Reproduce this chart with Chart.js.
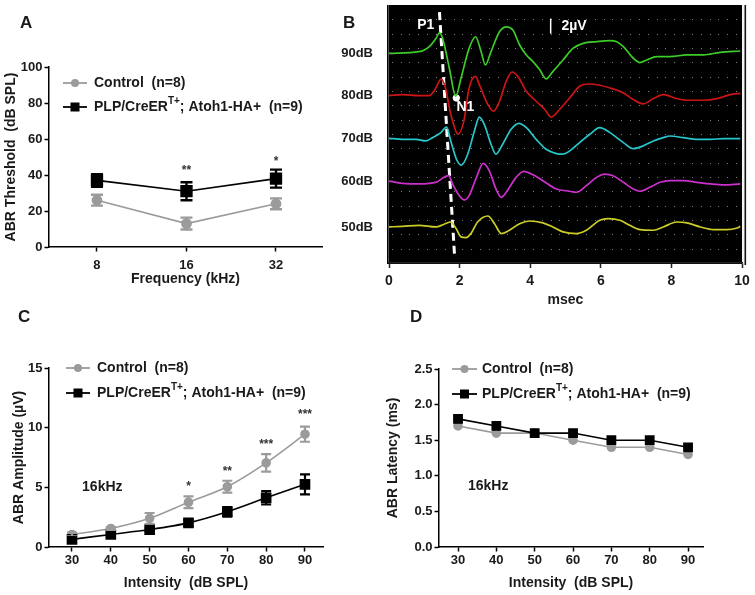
<!DOCTYPE html>
<html>
<head>
<meta charset="utf-8">
<script src="https://cdn.jsdelivr.net/npm/chart.js@4.4.1/dist/chart.umd.min.js"></script>
<style>
  body { margin: 0; background: #fff; }
  #wrap { position: relative; width: 755px; height: 595px; }
  #wrap canvas { position: absolute; left: 0; top: 0; }
</style>
</head>
<body>
<div id="wrap">
  <canvas id="panelA" width="755" height="595"></canvas>
  <canvas id="panelB" width="755" height="595"></canvas>
  <canvas id="panelC" width="755" height="595"></canvas>
  <canvas id="panelD" width="755" height="595"></canvas>
</div>
<script>
// ---- Panel A: ABR threshold ----
const freqLabels = ['8', '16', '32'];
const thrControl = [26, 13, 24];
const thrControlErr = [3, 3.3, 3];
const thrMutant = [37, 31, 38];
const thrMutantErr = [3.5, 5, 5];
const thrStars = ['', '**', '*'];
const thrStarY = [null, 44.4, 49.3];

// ---- Panel B: ABR traces (time ms, deflection uV) ----
const traceLabels = ['90dB', '80dB', '70dB', '60dB', '50dB'];
const traceBaselines = [29.26, 23.36, 17.40, 11.35, 5.03];
const traceColors = ['#3ccc28', '#cc1414', '#26c8cc', '#cc30cc', '#cccc26'];
const wave90 = [[0,0],[0.85,0.23],[1.0,0.47],[1.14,0.93],[1.33,2.08],[1.43,2.85],[1.52,2.08],[1.71,-2.08],[1.89,-6.02],[2.04,-3.47],[2.27,0.69],[2.45,2.31],[2.61,0.23],[2.73,-1.62],[2.89,0.23],[3.13,3.0],[3.32,3.7],[3.51,3.24],[3.70,1.16],[3.89,-0.23],[4.08,-1.16],[4.27,-2.31],[4.45,-3.56],[4.64,-2.55],[4.93,-0.93],[5.21,0.69],[5.50,1.39],[5.88,1.62],[6.26,1.76],[6.45,1.62],[6.64,0.93],[6.92,-0.69],[7.11,-1.3],[7.30,-0.93],[7.58,-0.46],[7.96,-0.46],[8.44,-0.23],[8.91,-0.23],[9.38,0.14],[9.95,0.32]];
const wave80 = [[0,0],[0.38,0.14],[0.85,0],[1.14,0],[1.30,0.83],[1.48,2.3],[1.60,1.06],[1.73,-2.18],[1.86,-4.49],[1.95,-5.4],[2.12,-3.56],[2.27,1.06],[2.45,2.68],[2.56,1.53],[2.80,-1.25],[2.96,-2.18],[3.13,-0.79],[3.32,1.99],[3.49,3.29],[3.65,2.68],[3.89,0.6],[4.17,-0.79],[4.41,-1.94],[4.60,-3.01],[4.83,-1.94],[5.12,-0.32],[5.40,1.3],[5.69,1.62],[5.97,1.44],[6.26,1.06],[6.64,0.37],[6.92,-0.56],[7.20,-1.16],[7.49,-0.42],[7.77,0.14],[8.15,-0.42],[8.44,-0.65],[8.91,-0.65],[9.29,-0.42],[9.67,0.14],[9.95,0.32]];
const wave70 = [[0,0],[0.38,-0.14],[0.76,-0.14],[1.04,-0.37],[1.23,0.09],[1.47,0.79],[1.63,1.57],[1.75,-0.37],[1.91,-2.92],[2.05,-3.75],[2.23,-2.22],[2.42,1.02],[2.56,2.96],[2.70,1.94],[2.89,-0.83],[3.03,-2.22],[3.22,-0.83],[3.46,1.25],[3.68,2.08],[3.89,1.48],[4.17,-0.14],[4.45,-1.53],[4.74,-2.13],[4.93,-2.22],[5.12,-1.76],[5.40,-0.6],[5.69,0.56],[5.97,1.48],[6.26,0.79],[6.64,-0.6],[6.92,-1.44],[7.20,-1.06],[7.49,-0.37],[7.77,0.09],[7.96,0.32],[8.34,0.09],[8.72,-0.14],[9.10,-0.14],[9.48,-0.05],[9.95,-0.05]];
const wave60 = [[0,0.09],[0.38,-0.23],[0.85,-0.32],[1.14,-0.23],[1.37,0],[1.56,0.6],[1.69,0.83],[1.80,-0.32],[1.99,-1.94],[2.13,-2.55],[2.27,-1.94],[2.46,0.37],[2.67,2.55],[2.84,1.53],[3.03,-1.02],[3.18,-2.18],[3.32,-1.48],[3.60,0.6],[3.82,1.44],[4.08,0.97],[4.36,0.14],[4.74,-1.02],[5.12,-1.34],[5.31,-1.48],[5.59,-0.56],[5.88,0.6],[6.11,1.06],[6.35,0.83],[6.64,-0.09],[6.92,-1.02],[7.11,-1.34],[7.39,-0.79],[7.68,-0.09],[7.96,0.14],[8.34,0.14],[8.72,-0.09],[9.10,-0.32],[9.48,-0.46],[9.95,-0.32]];
const wave50 = [[0,0],[0.38,0.09],[0.85,0.23],[1.33,0],[1.56,0.37],[1.75,0.69],[1.90,-0.23],[2.04,-1.39],[2.18,-1.48],[2.32,-0.93],[2.51,0.69],[2.80,1.53],[2.99,0.46],[3.18,-0.93],[3.41,-0.46],[3.70,0.46],[3.98,0.83],[4.36,0.56],[4.64,0],[4.93,-0.69],[5.31,-0.93],[5.59,-0.46],[5.97,0.93],[6.21,1.16],[6.54,0.93],[6.82,0.23],[7.11,-0.37],[7.49,-0.46],[7.77,0],[8.15,0.69],[8.44,0.56],[8.82,0],[9.19,-0.37],[9.57,-0.37],[9.86,-0.14],[9.95,0.09]];
const waves = [wave90, wave80, wave70, wave60, wave50];
const p1Line = [[1.43, 35.0], [1.86, 0.83]];
const n1Point = [1.906, 23.03];
const scaleBar = [4.58, 32.0, 34.1];

// ---- Panels C and D: amplitude and latency at 16 kHz ----
const intensities = [30, 40, 50, 60, 70, 80, 90];
const ampControl = [1.05, 1.55, 2.4, 3.75, 5.05, 7.05, 9.45];
const ampControlErr = [0.15, 0.12, 0.45, 0.5, 0.5, 0.74, 0.63];
const ampMutant = [0.64, 1.05, 1.46, 2.02, 2.95, 4.12, 5.25];
const ampMutantErr = [0.2, 0.15, 0.12, 0.25, 0.4, 0.56, 0.84];
const ampStars = ['', '', '', '*', '**', '***', '***'];
const ampStarY = [null, null, null, 5.34, 6.65, 8.91, 11.43];
const latControl = [1.7, 1.6, 1.6, 1.5, 1.4, 1.4, 1.3];
const latMutant = [1.8, 1.7, 1.6, 1.6, 1.5, 1.5, 1.4];
const latMutantErr = [0.05, 0.05, 0, 0, 0, 0, 0];

const GRAY = '#9b9b9b';
const INK = '#1a1a1a';
const FAMILY = '"Liberation Sans", Arial, Helvetica, sans-serif';
Chart.defaults.font.family = FAMILY;
Chart.defaults.font.weight = 'bold';
Chart.defaults.color = INK;

const legendRows = [
  { color: GRAY, marker: 'circle', parts: [['Control  (n=8)']] },
  { color: '#000', marker: 'rect', parts: [['PLP/CreER'], ['T+', 'sup'], ['; Atoh1-HA+  (n=9)']] }
];

function toPoints(xs, ys) {
  return ys.map((v, i) => ({ x: xs[i], y: v }));
}

// error bars from dataset.errors, using the chart's own scales
const errorBars = {
  id: 'errorBars',
  afterDatasetsDraw(chart) {
    const ctx = chart.ctx;
    chart.data.datasets.forEach((ds, i) => {
      if (!ds.errors) return;
      const meta = chart.getDatasetMeta(i);
      const ys = chart.scales[meta.yAxisID];
      ctx.save();
      ctx.strokeStyle = ds.borderColor;
      ctx.lineWidth = ds.errWidth || 2;
      meta.data.forEach((pt, j) => {
        const e = ds.errors[j];
        if (!e) return;
        const v = ds.data[j].y;
        const top = ys.getPixelForValue(v + e);
        const bot = ys.getPixelForValue(v - e);
        const cw = ds.capHalf || 5;
        ctx.beginPath();
        ctx.moveTo(pt.x, top); ctx.lineTo(pt.x, bot);
        ctx.moveTo(pt.x - cw, top); ctx.lineTo(pt.x + cw, top);
        ctx.moveTo(pt.x - cw, bot); ctx.lineTo(pt.x + cw, bot);
        ctx.stroke();
      });
      ctx.restore();
    });
  }
};

// texts, panel letter and legend for one panel
function decor(cfg) {
  return {
    id: 'decor',
    afterDatasetsDraw(chart) {
      const { ctx, scales: { x, y } } = chart;
      ctx.save();
      // panel letter
      ctx.fillStyle = INK;
      ctx.font = 'bold 17px ' + FAMILY;
      ctx.textBaseline = 'alphabetic';
      ctx.textAlign = 'left';
      ctx.fillText(cfg.letter[0], cfg.letter[1], cfg.letter[2]);
      // texts in data coordinates
      (cfg.texts || []).forEach(t => {
        ctx.fillStyle = t.color || INK;
        ctx.font = t.font;
        ctx.textAlign = t.align || 'center';
        ctx.textBaseline = t.baseline || 'middle';
        ctx.fillText(t.text, x.getPixelForValue(t.x), y.getPixelForValue(t.y) + (t.dy || 0));
      });
      // legend
      if (cfg.legend) {
        const L = cfg.legend;
        legendRows.forEach((row, i) => {
          const ry = L.rows[i];
          ctx.strokeStyle = row.color;
          ctx.lineWidth = 1.8;
          ctx.beginPath(); ctx.moveTo(L.x0, ry); ctx.lineTo(L.x1, ry); ctx.stroke();
          ctx.fillStyle = row.color;
          const mx = (L.x0 + L.x1) / 2;
          if (row.marker === 'circle') {
            ctx.beginPath(); ctx.arc(mx, ry, 4, 0, Math.PI * 2); ctx.fill();
          } else {
            ctx.fillRect(mx - 4.5, ry - 4.5, 9, 9);
          }
          ctx.fillStyle = INK;
          ctx.textAlign = 'left';
          ctx.textBaseline = 'middle';
          let tx = L.tx;
          row.parts.forEach(p => {
            const sup = p[1] === 'sup';
            ctx.font = (sup ? 'bold 10px ' : 'bold 14px ') + FAMILY;
            ctx.fillText(p[0], tx, ry + (sup ? -6 : 0));
            tx += ctx.measureText(p[0]).width;
          });
        });
      }
      ctx.restore();
    }
  };
}

function yAxis(o) {
  return {
    type: 'linear', min: o.min, max: o.max,
    ticks: { stepSize: o.step, font: { size: 13, weight: 'bold' }, color: INK, padding: 2, callback: o.cb },
    grid: { drawOnChartArea: false, tickLength: 4.5, tickWidth: 1.5, tickColor: '#000' },
    border: { color: '#000', width: 1.5 },
    title: { display: true, text: o.title, font: { size: 14, weight: 'bold' }, color: INK, padding: 0 },
    afterFit(s) { s.width = o.width; s.paddingTop = 0; s.paddingBottom = 0; }
  };
}

function xAxis(o) {
  return {
    type: 'linear', min: o.min, max: o.max,
    afterBuildTicks(s) { s.ticks = o.ticks.map(v => ({ value: v })); },
    ticks: { font: { size: 13, weight: 'bold' }, color: INK, padding: o.pad, autoSkip: false, maxRotation: 0, callback: o.cb },
    grid: { drawOnChartArea: false, tickLength: 4.5, tickWidth: 1.5, tickColor: '#000' },
    border: { color: '#000', width: 1.5 },
    title: { display: true, text: o.title, font: { size: 14, weight: 'bold' }, color: INK, padding: 0 },
    afterFit(s) { s.height = o.height; s.paddingLeft = 0; s.paddingRight = 0; }
  };
}

function baseOptions(padding, scales) {
  return {
    responsive: false,
    animation: false,
    events: [],
    layout: { padding },
    plugins: { legend: { display: false }, tooltip: { enabled: false } },
    scales
  };
}

function groupSets(xs, ctl, ctlErr, mut, mutErr, o) {
  return [
    { data: toPoints(xs, ctl), errors: ctlErr, borderColor: GRAY, backgroundColor: GRAY,
      borderWidth: 1.6, pointStyle: 'circle', pointRadius: o.circle, tension: o.tension,
      errWidth: o.errW, capHalf: o.cap, order: 2 },
    { data: toPoints(xs, mut), errors: mutErr, borderColor: '#000', backgroundColor: '#000',
      borderWidth: 1.6, pointStyle: 'rect', pointRadius: o.square, tension: o.tension,
      errWidth: o.errW, capHalf: o.cap, order: 1 }
  ];
}

// ---------- Panel A ----------
const freqIdx = freqLabels.map((_, i) => i);
new Chart(document.getElementById('panelA'), {
  type: 'line',
  data: { datasets: groupSets(freqIdx, thrControl, thrControlErr, thrMutant, thrMutantErr,
    { circle: 4.6, square: 7.6, tension: 0, errW: 2.4, cap: 6 }) },
  options: baseOptions({ left: 2.6, top: 67, right: 433, bottom: 307.6 }, {
    x: xAxis({ min: -0.536, max: 2.514, ticks: freqIdx, pad: 6.5, height: 40.4,
      title: 'Frequency (kHz)', cb: v => freqLabels[v] }),
    y: yAxis({ min: 0, max: 100, step: 20, width: 46.4, title: 'ABR Threshold  (dB SPL)' })
  }),
  plugins: [errorBars, decor({
    letter: ['A', 20, 28],
    legend: { rows: [83, 107], x0: 63, x1: 87, tx: 94 },
    texts: thrStars.map((s, i) => ({ text: s, x: i, y: thrStarY[i] || 0, dy: 7,
      baseline: 'alphabetic', font: 'bold 12px ' + FAMILY, color: '#333' })).filter(t => t.text)
  })]
});

// ---------- Panel B ----------
const traceSets = waves.map((w, k) => ({
  data: w.map(p => ({ x: p[0], y: p[1] + traceBaselines[k] })),
  borderColor: traceColors[k], borderWidth: 1.7, pointRadius: 0, cubicInterpolationMode: 'monotone'
}));
traceSets.push({
  data: p1Line.map(p => ({ x: p[0], y: p[1] })),
  borderColor: '#ffffff', borderWidth: 3, borderDash: [8, 5], pointRadius: 0, tension: 0
});
traceSets.push({
  data: [{ x: n1Point[0], y: n1Point[1] }],
  borderColor: '#ffffff', backgroundColor: '#ffffff', pointRadius: 3.2, showLine: false
});
traceSets.push({
  data: [{ x: scaleBar[0], y: scaleBar[1] }, { x: scaleBar[0], y: scaleBar[2] }],
  borderColor: '#ffffff', borderWidth: 1.5, pointRadius: 0
});

const scopeBack = {
  id: 'scopeBack',
  beforeDraw(chart) {
    const { ctx, chartArea: a } = chart;
    ctx.save();
    ctx.fillStyle = '#000';
    ctx.fillRect(a.left - 2, a.top, a.right - a.left + 2, a.bottom - a.top + 1);
    ctx.strokeStyle = '#555';
    ctx.lineWidth = 1;
    ctx.beginPath(); ctx.moveTo(a.left - 0.5, a.top); ctx.lineTo(a.left - 0.5, a.bottom); ctx.stroke();
    ctx.strokeStyle = '#f4f4f4';
    ctx.lineWidth = 2;
    ctx.beginPath(); ctx.moveTo(a.right + 1, a.top); ctx.lineTo(a.right + 1, a.bottom + 2); ctx.stroke();
    ctx.strokeStyle = '#111';
    ctx.lineWidth = 1.6;
    ctx.beginPath(); ctx.moveTo(a.right + 3.3, a.top); ctx.lineTo(a.right + 3.3, a.bottom + 2); ctx.stroke();
    ctx.restore();
  },
  beforeDatasetsDraw(chart) {
    const { ctx, scales: { x, y } } = chart;
    ctx.save();
    ctx.fillStyle = '#7c7c7c';
    for (let v = 2; v < 36; v += 2) {
      const py = Math.round(y.getPixelForValue(v));
      for (let t = 0.08; t < 10; t += 0.25) {
        ctx.fillRect(Math.round(x.getPixelForValue(t)), py, 1, 1);
      }
    }
    ctx.restore();
  }
};

new Chart(document.getElementById('panelB'), {
  type: 'line',
  data: { datasets: traceSets },
  options: baseOptions({ left: 330, top: 3, right: 13, bottom: 286.6 }, {
    x: {
      type: 'linear', min: 0, max: 10,
      ticks: { stepSize: 2, font: { size: 14, weight: 'bold' }, color: INK, padding: 4.6, maxRotation: 0 },
      grid: { drawOnChartArea: false, tickLength: 5, tickWidth: 1.5, tickColor: '#222' },
      border: { color: '#222', width: 1.5 },
      title: { display: true, text: 'msec', font: { size: 14, weight: 'bold' }, color: INK, padding: 0 },
      afterFit(s) { s.height = 45.4; s.paddingLeft = 0; s.paddingRight = 0; }
    },
    y: {
      type: 'linear', min: 0, max: 36,
      afterBuildTicks(s) { s.ticks = traceBaselines.map(v => ({ value: v })); },
      ticks: { callback: (v, i) => traceLabels[i], font: { size: 13, weight: 'bold' }, color: INK,
        padding: 16, autoSkip: false },
      grid: { display: false, drawTicks: false },
      border: { display: false },
      afterFit(s) { s.width = 59; s.paddingTop = 0; s.paddingBottom = 0; }
    }
  }),
  plugins: [scopeBack, decor({
    letter: ['B', 343, 28],
    texts: [
      { text: 'P1', x: 0.8, y: 33.2, align: 'left', font: 'bold 14px ' + FAMILY, color: '#ffffff' },
      { text: 'N1', x: 1.91, y: 21.74, align: 'left', font: 'bold 14px ' + FAMILY, color: '#ffffff' },
      { text: '2\u00b5V', x: 4.885, y: 33.1, align: 'left', font: 'bold 14px ' + FAMILY, color: '#ffffff' }
    ]
  })]
});

// ---------- Panel C ----------
new Chart(document.getElementById('panelC'), {
  type: 'line',
  data: { datasets: groupSets(intensities, ampControl, ampControlErr, ampMutant, ampMutantErr,
    { circle: 4, square: 6.4, tension: 0.3, errW: 2.2, cap: 5 }) },
  options: baseOptions({ left: 10.6, top: 368, right: 432, bottom: 3.9 }, {
    x: xAxis({ min: 24.08, max: 94.64, ticks: intensities, pad: 1.2, height: 44.1,
      title: 'Intensity  (dB SPL)' }),
    y: yAxis({ min: 0, max: 15, step: 5, width: 38.4, title: 'ABR Amplitude (\u00b5V)' })
  }),
  plugins: [errorBars, decor({
    letter: ['C', 18, 322],
    legend: { rows: [368, 393], x0: 66, x1: 90, tx: 97 },
    texts: [{ text: '16kHz', x: 32.6, y: 5.05, align: 'left', font: 'bold 14px ' + FAMILY }].concat(
      ampStars.map((s, i) => ({ text: s, x: intensities[i], y: ampStarY[i] || 0, dy: 7,
        baseline: 'alphabetic', font: 'bold 12px ' + FAMILY, color: '#333' })).filter(t => t.text))
  })]
});

// ---------- Panel D ----------
new Chart(document.getElementById('panelD'), {
  type: 'line',
  data: { datasets: groupSets(intensities, latControl, null, latMutant, latMutantErr,
    { circle: 4, square: 5.8, tension: 0, errW: 1.6, cap: 4 }) },
  options: baseOptions({ left: 384.6, top: 369, right: 52, bottom: 3.3 }, {
    x: xAxis({ min: 25.04, max: 93.9, ticks: intensities, pad: 1.2, height: 44.7,
      title: 'Intensity  (dB SPL)' }),
    y: yAxis({ min: 0, max: 2.5, step: 0.5, width: 54.4, title: 'ABR Latency (ms)',
      cb: v => Number(v).toFixed(1) })
  }),
  plugins: [errorBars, decor({
    letter: ['D', 410, 322],
    legend: { rows: [369, 394], x0: 452, x1: 477, tx: 482 },
    texts: [{ text: '16kHz', x: 32.6, y: 0.857, align: 'left', font: 'bold 14px ' + FAMILY }]
  })]
});
</script>
</body>
</html>
